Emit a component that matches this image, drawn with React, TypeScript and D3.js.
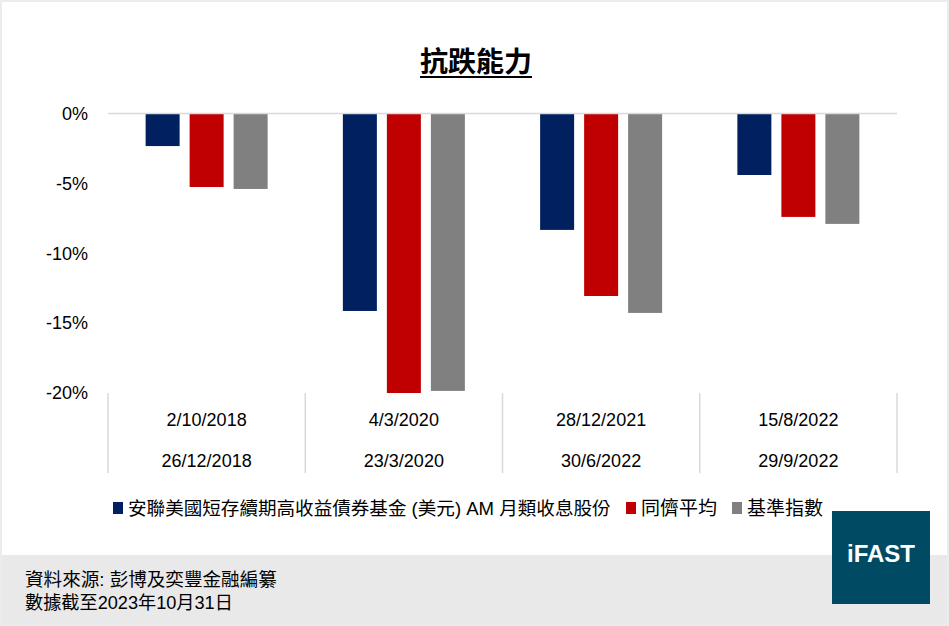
import { useEffect, useRef } from 'react';
import * as d3 from 'd3';

const periodStart = ['2/10/2018', '4/3/2020', '28/12/2021', '15/8/2022'];
const periodEnd = ['26/12/2018', '23/3/2020', '30/6/2022', '29/9/2022'];
const seriesNames = ['安聯美國短存續期高收益債券基金 (美元) AM 月類收息股份', '同儕平均', '基準指數'];
const fundValues = [-2.33, -14.13, -8.33, -4.4];
const peerValues = [-5.26, -20.0, -13.06, -7.4];
const indexValues = [-5.4, -19.85, -14.27, -7.9];
const yTicks = [0, -5, -10, -15, -20];
const sourceLines = ['資料來源: 彭博及奕豐金融編纂', '數據截至2023年10月31日'];

const colors = ['#002060', '#C00000', '#808080'];
const FONT = '"Liberation Sans", Arial, "Noto Sans CJK TC", sans-serif';

// scale a text's font size so it spans the wanted width
const fitText = (t: d3.Selection<SVGTextElement, unknown, null, undefined>, base: number, target: number) => {
  const len = (t.node() as SVGTextElement).getComputedTextLength();
  if (len > 0) t.style('font-size', `${(base * target) / len}px`);
  return t;
};

const App = () => {
  const ref = useRef<SVGSVGElement>(null);

  useEffect(() => {
    if (!ref.current) return;
    const svg = d3.select(ref.current);
    svg.selectAll('*').remove();

    const W = 949;
    const H = 626;
    const margin = { left: 108, right: 52, top: 113.5, bottom: 233 };
    const plotBottom = H - margin.bottom;

    // background + footer band
    svg.append('rect').attr('width', W).attr('height', H).attr('fill', '#fff');
    svg.append('rect').attr('x', 0).attr('y', 555).attr('width', W).attr('height', H - 555).attr('fill', '#e9e9e9');
    svg.append('rect').attr('x', 1).attr('y', 1).attr('width', W - 2).attr('height', H - 2)
      .attr('fill', 'none').attr('stroke', '#ececec').attr('stroke-width', 2);

    // title
    const title = svg.append('text')
      .attr('x', 476).attr('y', 72)
      .attr('text-anchor', 'middle')
      .style('font-family', FONT)
      .style('font-size', '28px')
      .style('font-weight', 'bold')
      .attr('fill', '#000')
      .text('抗跌能力');
    const tb = (title.node() as SVGTextElement).getBBox();
    svg.append('line')
      .attr('x1', tb.x).attr('x2', tb.x + tb.width)
      .attr('y1', 77).attr('y2', 77)
      .attr('stroke', '#000').attr('stroke-width', 2);

    const rows = periodStart.map((p, i) => ({
      key: p,
      values: [fundValues[i], peerValues[i], indexValues[i]],
    }));

    const x0 = d3.scaleBand<string>()
      .domain(periodStart)
      .range([margin.left, W - margin.right])
      .padding(0);
    const x1 = d3.scaleBand<number>()
      .domain([0, 1, 2])
      .range([0, x0.bandwidth()])
      .paddingInner(10 / 44)
      .paddingOuter(0.855);
    const y = d3.scaleLinear().domain([-20, 0]).range([plotBottom, margin.top]);

    // bars
    const g = svg.append('g');
    rows.forEach(r => {
      g.selectAll(null)
        .data(r.values)
        .enter()
        .append('rect')
        .attr('x', (_, i) => (x0(r.key) || 0) + (x1(i) || 0))
        .attr('y', y(0))
        .attr('width', x1.bandwidth())
        .attr('height', d => y(d) - y(0))
        .attr('fill', (_, i) => colors[i]);
    });

    // zero line
    svg.append('line')
      .attr('x1', margin.left).attr('x2', W - margin.right)
      .attr('y1', y(0)).attr('y2', y(0))
      .attr('stroke', '#d9d9d9').attr('stroke-width', 1.5);

    // y tick labels
    svg.selectAll('.ytick')
      .data(yTicks)
      .enter()
      .append('text')
      .attr('x', 88)
      .attr('y', d => y(d))
      .attr('dy', '0.35em')
      .attr('text-anchor', 'end')
      .style('font-family', FONT)
      .style('font-size', '18px')
      .attr('fill', '#000')
      .text(d => `${d}%`);

    // category separators
    const bounds = [...periodStart.map(p => x0(p) || 0), W - margin.right];
    svg.selectAll('.sep')
      .data(bounds)
      .enter()
      .append('line')
      .attr('x1', d => d).attr('x2', d => d)
      .attr('y1', plotBottom).attr('y2', 473)
      .attr('stroke', '#d9d9d9').attr('stroke-width', 1.5);

    // category labels (two rows)
    [periodStart, periodEnd].forEach((labels, row) => {
      svg.selectAll(null)
        .data(labels)
        .enter()
        .append('text')
        .attr('x', (_, i) => (x0(periodStart[i]) || 0) + x0.bandwidth() / 2)
        .attr('y', row === 0 ? 420 : 461)
        .attr('dy', '0.35em')
        .attr('text-anchor', 'middle')
        .style('font-family', FONT)
        .style('font-size', '18px')
        .attr('fill', '#000')
        .text(d => d);
    });

    // legend
    const legendWidths = [483, 76, 76];
    const legend = svg.append('g');
    let lx = 113;
    seriesNames.forEach((name, i) => {
      legend.append('rect')
        .attr('x', lx).attr('y', 502)
        .attr('width', 10).attr('height', 12)
        .attr('fill', colors[i]);
      const t = legend.append('text')
        .attr('x', lx + 15).attr('y', 508)
        .attr('dy', '0.35em')
        .style('font-family', FONT)
        .style('font-size', '18px')
        .attr('fill', '#000')
        .text(name);
      fitText(t, 18, legendWidths[i]);
      lx += 15 + legendWidths[i] + 15;
    });

    // footer source text
    const sourceWidths = [252, 208];
    sourceLines.forEach((line, i) => {
      const t = svg.append('text')
        .attr('x', 25)
        .attr('y', 579 + i * 24)
        .attr('dy', '0.35em')
        .style('font-family', FONT)
        .style('font-size', '16px')
        .attr('fill', '#000')
        .text(line);
      fitText(t, 16, sourceWidths[i]);
    });

    // logo
    svg.append('rect')
      .attr('x', 832).attr('y', 511).attr('width', 98).attr('height', 93)
      .attr('fill', '#004b63');
    svg.append('text')
      .attr('x', 881).attr('y', 562)
      .attr('text-anchor', 'middle')
      .style('font-family', FONT)
      .style('font-size', '24px')
      .style('font-weight', 'bold')
      .attr('fill', '#fff')
      .text('iFAST');
  }, []);

  return (
    <div style={{ position: 'absolute', left: 0, top: 0 }}>
      <svg ref={ref} width={949} height={626} style={{ display: 'block' }} />
    </div>
  );
};

export default App;
